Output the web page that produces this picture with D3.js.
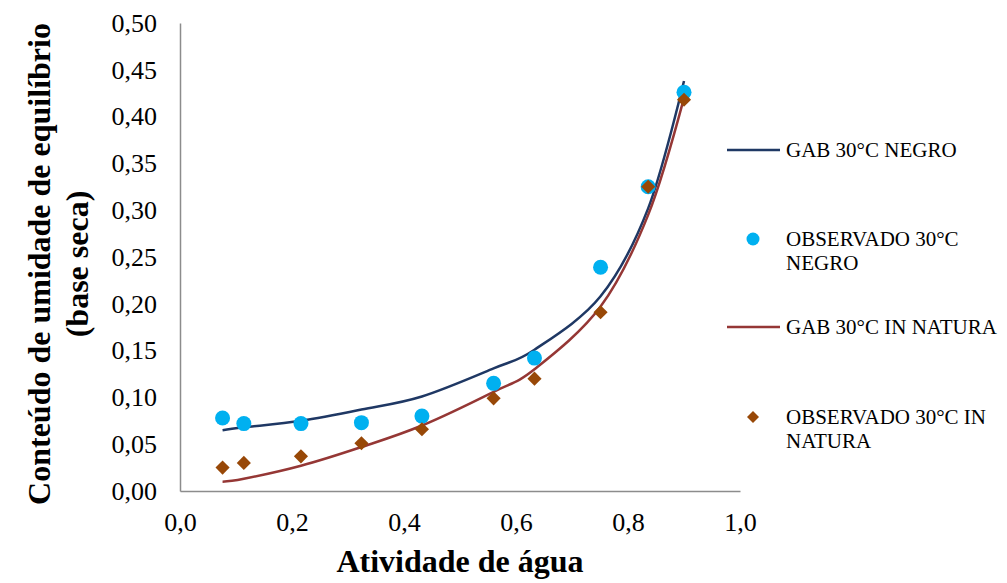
<!DOCTYPE html>
<html>
<head>
<meta charset="utf-8">
<script src="https://cdn.jsdelivr.net/npm/d3@7"></script>
<style>
  body { margin: 0; background: #fff; }
  svg { display: block; font-family: "Liberation Serif", "Times New Roman", serif; }
</style>
</head>
<body>
<svg id="svg1" width="1007" height="583"></svg>
<script>
// water activity of the saturated salt solutions
var aw = [0.076, 0.114, 0.216, 0.324, 0.432, 0.560, 0.633, 0.751, 0.836, 0.900];

// GAB fitted values
var gabNegro  = [0.065, 0.068, 0.075, 0.087, 0.101, 0.131, 0.151, 0.208, 0.302, 0.438];
var gabNatura = [0.010, 0.013, 0.027, 0.047, 0.070, 0.106, 0.130, 0.197, 0.295, 0.420];

// observed values
var obsNegro  = [0.078, 0.072, 0.072, 0.073, 0.080, 0.115, 0.142, 0.239, 0.325, 0.426];
var obsNatura = [0.025, 0.030, 0.037, 0.051, 0.066, 0.099, 0.120, 0.191, 0.325, 0.418];

var xTicks = [0, 0.2, 0.4, 0.6, 0.8, 1.0];
var yTicks = [0, 0.05, 0.10, 0.15, 0.20, 0.25, 0.30, 0.35, 0.40, 0.45, 0.50];

var legendLabels = [
  ["GAB 30°C NEGRO"],
  ["OBSERVADO 30°C", "NEGRO"],
  ["GAB 30°C IN NATURA"],
  ["OBSERVADO 30°C IN", "NATURA"]
];

var blueLine = "#1f3864";
var redLine = "#953735";
var blueDot = "#00b0f0";
var brownDot = "#984807";

var svg = d3.select('svg');

var x = d3.scaleLinear().domain([0, 1]).range([180, 740]);
var y = d3.scaleLinear().domain([0, 0.5]).range([491, 23]);

var comma = function(f) {
  return function(d) { return d3.format(f)(d).replace('.', ','); };
};

// axes
svg.append("g")
   .attr("transform", "translate(0," + y(0) + ")")
   .call(d3.axisBottom(x).tickValues(xTicks).tickFormat(comma(".1f"))
           .tickSizeInner(0).tickSizeOuter(0).tickPadding(22));

svg.append("g")
   .attr("transform", "translate(" + x(0) + ",0)")
   .call(d3.axisLeft(y).tickValues(yTicks).tickFormat(comma(".2f"))
           .tickSizeInner(0).tickSizeOuter(0).tickPadding(23));

svg.selectAll(".domain").attr("stroke", "#8c8c8c").attr("stroke-width", 1.5);
svg.selectAll(".tick text")
   .attr("font-family", "Liberation Serif, Times New Roman, serif")
   .attr("font-size", 26)
   .attr("fill", "#000");

// axis titles
svg.append("text")
   .attr("x", 460).attr("y", 572)
   .attr("text-anchor", "middle")
   .attr("font-size", 32).attr("font-weight", "bold")
   .text("Atividade de água");

var yTitle = svg.append("text")
   .attr("transform", "translate(0,264) rotate(-90)")
   .attr("text-anchor", "middle")
   .attr("font-size", 32).attr("font-weight", "bold");
yTitle.append("tspan").attr("x", 0).attr("y", 50).text("Conteúdo de umidade de equilíbrio");
yTitle.append("tspan").attr("x", 0).attr("y", 88).text("(base seca)");

// fitted curves
var line = d3.line()
    .x(function(d) { return x(d[0]); })
    .y(function(d) { return y(d[1]); })
    .curve(d3.curveCardinal.tension(0));

svg.append("path")
   .datum(d3.zip(aw, gabNegro))
   .attr("fill", "none").attr("stroke", blueLine).attr("stroke-width", 2.5)
   .attr("d", line);

svg.append("path")
   .datum(d3.zip(aw, gabNatura))
   .attr("fill", "none").attr("stroke", redLine).attr("stroke-width", 2.5)
   .attr("d", line);

// observed points
svg.append("g").selectAll("circle")
   .data(d3.zip(aw, obsNegro))
   .enter()
   .append("circle")
   .attr("cx", function(d) { return x(d[0]); })
   .attr("cy", function(d) { return y(d[1]); })
   .attr("r", 7.5)
   .attr("fill", blueDot);

var diamond = d3.symbol().type(d3.symbolSquare).size(100);

svg.append("g").selectAll("path")
   .data(d3.zip(aw, obsNatura))
   .enter()
   .append("path")
   .attr("d", diamond)
   .attr("transform", function(d) { return "translate(" + x(d[0]) + "," + y(d[1]) + ") rotate(45)"; })
   .attr("fill", brownDot);

// legend
var legendY = [150, 239, 327, 417];
var legend = svg.append("g");

legend.append("line").attr("x1", 727).attr("x2", 780)
      .attr("y1", legendY[0]).attr("y2", legendY[0])
      .attr("stroke", blueLine).attr("stroke-width", 2.5);
legend.append("circle").attr("cx", 753).attr("cy", legendY[1]).attr("r", 6.5).attr("fill", blueDot);
legend.append("line").attr("x1", 727).attr("x2", 780)
      .attr("y1", legendY[2]).attr("y2", legendY[2])
      .attr("stroke", redLine).attr("stroke-width", 2.5);
legend.append("path").attr("d", d3.symbol().type(d3.symbolSquare).size(72))
      .attr("transform", "translate(753," + legendY[3] + ") rotate(45)")
      .attr("fill", brownDot);

legendLabels.forEach(function(lines, i) {
  var t = legend.append("text").attr("font-size", 21).attr("fill", "#000");
  lines.forEach(function(s, j) {
    t.append("tspan").attr("x", 786).attr("y", legendY[i] + 7 + j * 24).text(s);
  });
});
</script>
</body>
</html>
